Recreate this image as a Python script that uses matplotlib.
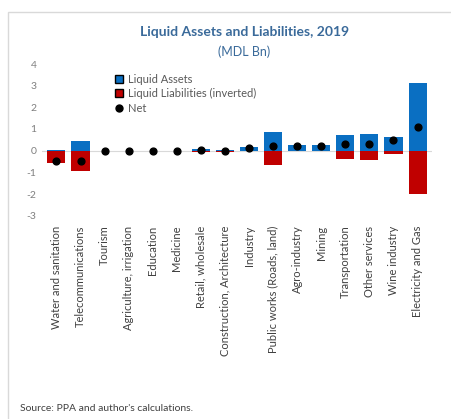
import matplotlib
matplotlib.use("Agg")
import matplotlib.pyplot as plt
from matplotlib.patches import Rectangle
from matplotlib.lines import Line2D

plt.rcParams['font.family'] = ['Lato', 'DejaVu Sans']

categories = ["Water and sanitation", "Telecommunications", "Tourism",
              "Agriculture, irrigation", "Education", "Medicine",
              "Retail, wholesale", "Construction, Architecture", "Industry",
              "Public works (Roads, land)", "Agro-industry", "Mining",
              "Transportation", "Other services", "Wine industry",
              "Electricity and Gas"]
assets = [0.05, 0.45, 0.0, 0.0, 0.0, 0.0, 0.08, 0.05, 0.15, 0.85, 0.25, 0.25,
          0.72, 0.75, 0.65, 3.1]
liabilities = [-0.55, -0.95, 0.0, -0.02, 0.0, 0.0, -0.05, -0.08, -0.02, -0.65,
               -0.02, -0.03, -0.4, -0.45, -0.15, -2.0]
net = [-0.5, -0.5, 0.0, -0.02, 0.0, 0.0, 0.03, -0.03, 0.13, 0.2, 0.23, 0.22,
       0.32, 0.3, 0.5, 1.1]
yticks = [-3, -2, -1, 0, 1, 2, 3, 4]

W, H = 452, 419
fig = plt.figure(figsize=(W / 100, H / 100), dpi=100)

# outer border
fig.patches.append(Rectangle((8 / W, -0.01), 1.0, 1 - 12 / H + 0.01,
                             transform=fig.transFigure, fill=False,
                             edgecolor='#d9d9d9', linewidth=1.0))

ax = fig.add_axes([42 / W, 1 - 220 / H, (432 - 42) / W, (220 - 64) / H])
x = list(range(len(categories)))
blue = '#0a6fc2'
red = '#c00000'
ax.bar(x, assets, width=0.75, color=blue, label='Liquid Assets', zorder=2)
ax.bar(x, liabilities, width=0.75, color=red,
       label='Liquid Liabilities (inverted)', zorder=2)
ax.scatter(x, net, s=24, color='black', zorder=3, label='Net')

ax.set_ylim(-3.2, 4.0)
ax.set_xlim(-0.6, len(categories) - 0.4)
ax.set_yticks(yticks)
ax.set_yticklabels([str(v) for v in yticks], fontsize=7.5, color='#7f7f7f')
ax.set_xticks(x)
ax.set_xticklabels(categories, rotation=90, fontsize=8, color='#404040')
ax.tick_params(length=0, pad=4)
for s in ax.spines.values():
    s.set_visible(False)
ax.axhline(0, color='#d9d9d9', linewidth=0.8, zorder=1)

handles = [Line2D([0], [0], marker='s', color='none', markerfacecolor=blue,
                  markersize=6),
           Line2D([0], [0], marker='s', color='none', markerfacecolor=red,
                  markersize=6),
           Line2D([0], [0], marker='o', color='none', markerfacecolor='black',
                  markeredgecolor='black', markersize=5)]
leg = ax.legend(handles, ['Liquid Assets', 'Liquid Liabilities (inverted)', 'Net'],
                loc='upper left', bbox_to_anchor=(0.16, 1.0), frameon=False,
                fontsize=8, handlelength=0.8, handletextpad=0.4,
                labelspacing=0.3)
for t in leg.get_texts():
    t.set_color('#595959')

fig.text(0.54, 1 - 32 / H, 'Liquid Assets and Liabilities, 2019',
         ha='center', va='center', fontsize=10, fontweight='bold',
         color='#3a6a9a')
fig.text(0.54, 1 - 52 / H, '(MDL Bn)', ha='center', va='center',
         fontsize=9, color='#3a6a9a')
fig.text(20 / W, 1 - 408 / H, "Source: PPA and author's calculations.",
         ha='left', va='center', fontsize=7.5, color='#404040')

fig.savefig('out.png', dpi=100)
